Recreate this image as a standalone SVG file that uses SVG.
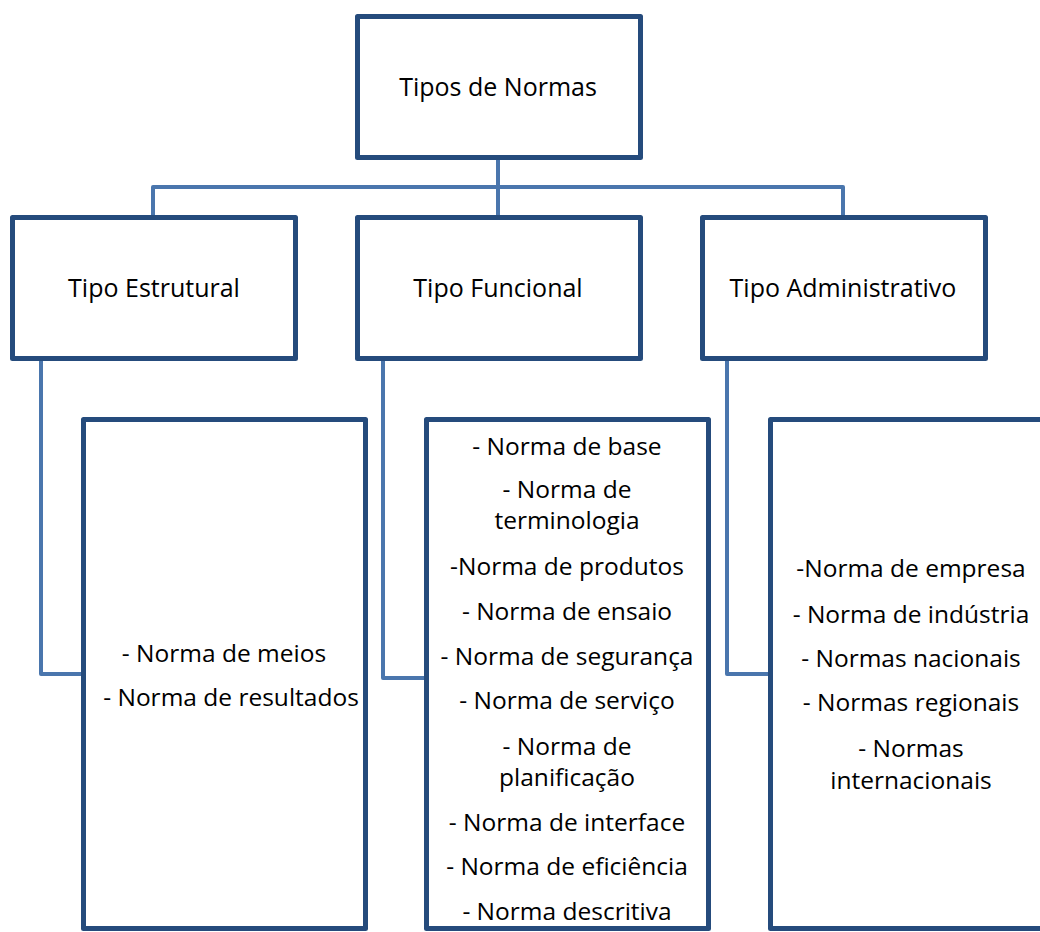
<svg xmlns="http://www.w3.org/2000/svg" width="1040" height="932" viewBox="0 0 1040 932">
<style>
.box{fill:#fff;stroke:#254b7c;stroke-width:5;stroke-linejoin:round}
.conn{fill:none;stroke:#4a76ad;stroke-width:4;stroke-linejoin:round}
.t{font-family:"Open Sans","Liberation Sans",sans-serif;font-size:25px;fill:#000;text-anchor:middle}
.l{font-family:"Open Sans","Liberation Sans",sans-serif;font-size:24.5px;fill:#000;text-anchor:middle}
</style>
<rect width="1040" height="932" fill="#fff"/>
<g id="connectors">
<path class="conn" d="M498,158 V215 M153,215 V187 H843 V215"/>
<path class="conn" d="M41,361 V674 H81"/>
<path class="conn" d="M383,361 V678 H424"/>
<path class="conn" d="M727,361 V674 H768"/>
</g>
<g id="tipos-de-normas">
<rect class="box" x="357.5" y="16.5" width="283" height="141"/>
<text class="t" x="498" y="96">Tipos de Normas</text>
</g>
<g id="tipo-estrutural">
<rect class="box" x="12.5" y="217.5" width="283" height="141"/>
<text class="t" x="154" y="297">Tipo Estrutural</text>
</g>
<g id="tipo-funcional">
<rect class="box" x="357.5" y="217.5" width="283" height="141"/>
<text class="t" x="498" y="297">Tipo Funcional</text>
</g>
<g id="tipo-administrativo">
<rect class="box" x="702.5" y="217.5" width="283" height="141"/>
<text class="t" x="843" y="297">Tipo Administrativo</text>
</g>
<g id="estrutural-list">
<rect class="box" x="83.5" y="419.5" width="282" height="509"/>
<text class="l" x="224" y="662">- Norma de meios</text>
<text class="l" x="231" y="706">- Norma de resultados</text>
</g>
<g id="funcional-list">
<rect class="box" x="426.5" y="419.5" width="282" height="509"/>
<text class="l" x="567" y="455">- Norma de base</text>
<text class="l" x="567" y="498">- Norma de</text>
<text class="l" x="567" y="529">terminologia</text>
<text class="l" x="567" y="575">-Norma de produtos</text>
<text class="l" x="567" y="620">- Norma de ensaio</text>
<text class="l" x="567" y="665">- Norma de segurança</text>
<text class="l" x="567" y="709">- Norma de serviço</text>
<text class="l" x="567" y="755">- Norma de</text>
<text class="l" x="567" y="786">planificação</text>
<text class="l" x="567" y="831">- Norma de interface</text>
<text class="l" x="567" y="875">- Norma de eficiência</text>
<text class="l" x="567" y="920">- Norma descritiva</text>
</g>
<g id="administrativo-list">
<rect class="box" x="770.5" y="419.5" width="282" height="509"/>
<text class="l" x="911" y="577">-Norma de empresa</text>
<text class="l" x="911" y="623">- Norma de indústria</text>
<text class="l" x="911" y="667">- Normas nacionais</text>
<text class="l" x="911" y="711">- Normas regionais</text>
<text class="l" x="911" y="757">- Normas</text>
<text class="l" x="911" y="789">internacionais</text>
</g>
</svg>
